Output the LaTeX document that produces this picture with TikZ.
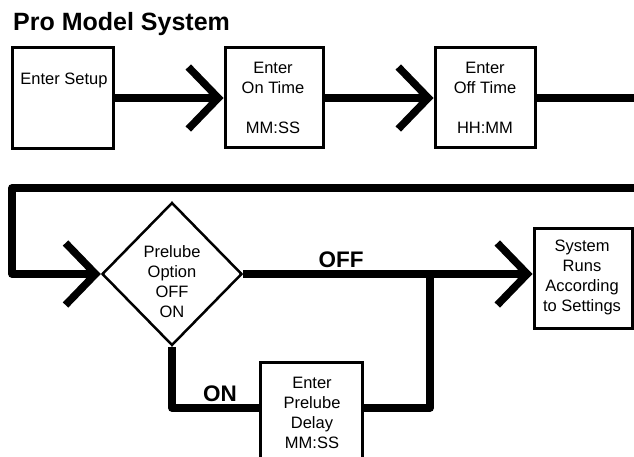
\documentclass[tikz,border=0pt]{standalone}
\usepackage{fontspec}
\setmainfont{Liberation Sans}
\usetikzlibrary{arrows.meta,shapes.geometric}

\tikzset{
  flow/.style={line width=7.5pt, line join=round},
  chev/.style={-{Straight Barb[length=30pt,width=62pt,sharp]}},
  box/.style={draw, line width=3pt, inner sep=0pt},
  decide/.style={draw, diamond, line width=2.5pt, inner sep=0pt,
    minimum width=140pt, minimum height=143pt},
  boxtext/.style={anchor=north, inner sep=0pt, align=center,
    font=\fontsize{16.5}{20}\selectfont},
  tag/.style={anchor=base, inner sep=0pt,
    font=\fontsize{22.5}{26}\selectfont\bfseries}
}

\begin{document}
\begin{tikzpicture}[x=1pt, y=-1pt]
        \useasboundingbox (0,0) rectangle (634,457);
        \clip (0,0) rectangle (634,457);

        % Title
        \node[anchor=base west, inner sep=0pt, font=\fontsize{25}{30}\selectfont\bfseries]
            (title) at (13,31) {Pro Model System};

        % Top row boxes
        \node[box, minimum width=101pt, minimum height=101pt] (setup) at (63,98) {};
        \node[box, minimum width=98pt, minimum height=100pt] (ontime) at (274,98) {};
        \node[box, minimum width=100pt, minimum height=100pt] (offtime) at (485,98) {};

        \node[boxtext] (setuptxt) at (64,72.5) {Enter Setup};
        \node[boxtext] (ontimetxt) at (273,61.5) {Enter\\On Time\\[20pt]MM:SS};
        \node[boxtext] (offtimetxt) at (485,61.5) {Enter\\Off Time\\[20pt]HH:MM};

        % Decision and lower boxes
        \node[decide] (prelube) at (172,274) {};
        \node[boxtext] (prelubetxt) at (172,245) {Prelube\\Option\\OFF\\ON};

        \node[box, minimum width=98pt, minimum height=100pt] (system) at (583,278.5) {};
        \node[boxtext] (systemtxt) at (582,240) {System\\Runs\\According\\to Settings};

        \node[box, minimum width=102pt, minimum height=110pt] (delay) at (311,417) {};
        \node[boxtext] (delaytxt) at (312,376.5) {Enter\\Prelube\\Delay\\MM:SS};

        % Free ends and joints
        \coordinate (rightout) at (640,98);
        \coordinate (rightin) at (640,188);
        \coordinate (loopcorner) at (12,188);
        \coordinate (offjoin) at (430,274);

        % Flow lines
        \draw[flow, chev] (setup.east) -- (ontime.west);
        \draw[flow, chev] (ontime.east) -- (offtime.west);
        \draw[flow] (offtime.east) -- (rightout);
        \draw[flow, chev] (rightin) -- (loopcorner) |- (prelube.west);
        \draw[flow, chev] (prelube.east) -- (prelube.east -| system.west);
        \draw[flow] (prelube.south) |- ([yshift=9pt]delay.west);
        \draw[flow] (offjoin) |- ([yshift=9pt]delay.east);

        % Branch labels
        \node[tag] (offtag) at (341,267) {OFF};
        \node[tag] (ontag) at (220,401) {ON};
    \end{tikzpicture}
\end{document}
